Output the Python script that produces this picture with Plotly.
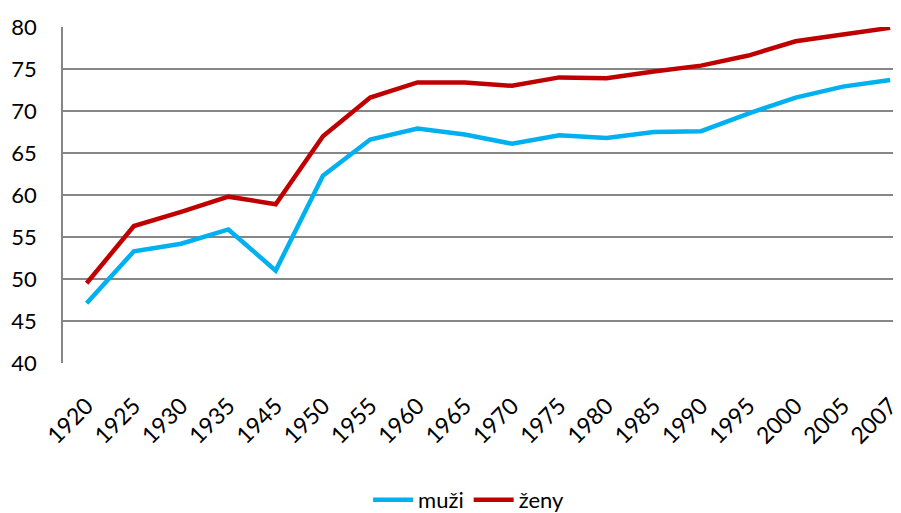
import plotly.graph_objects as go

roky = ['1920', '1925', '1930', '1935', '1945', '1950', '1955', '1960', '1965',
        '1970', '1975', '1980', '1985', '1990', '1995', '2000', '2005', '2007']

muzi = [47.1, 53.3, 54.2, 55.9, 51.0, 62.3, 66.6, 67.9, 67.2,
        66.1, 67.1, 66.8, 67.5, 67.6, 69.7, 71.6, 72.9, 73.7]

zeny = [49.5, 56.3, 58.0, 59.8, 58.9, 67.0, 71.6, 73.4, 73.4,
        73.0, 74.0, 73.9, 74.7, 75.4, 76.6, 78.3, 79.1, 79.9]

FONT = 'Lato'

fig = go.Figure()
fig.add_trace(go.Scatter(x=roky, y=muzi, name='muži', mode='lines',
                         line=dict(color='#00B0F0', width=4.5)))
fig.add_trace(go.Scatter(x=roky, y=zeny, name='ženy', mode='lines',
                         line=dict(color='#C00000', width=4.5)))

# the page body has an 8px margin, so the figure is drawn 8px smaller
fig.update_layout(
    width=893,
    height=505,
    margin=dict(l=55, r=0, t=19, b=150),
    plot_bgcolor='white',
    paper_bgcolor='white',
    font=dict(family=FONT, size=22, color='black'),
    legend=dict(orientation='h', x=0.484, xanchor='center',
                yref='container', y=0.026, yanchor='middle',
                font=dict(size=22), itemwidth=40),
    xaxis=dict(
        type='category',
        range=[-0.5, 17.23],
        tickangle=-45,
        tickfont=dict(size=23),
        showgrid=False,
        showline=False,
        ticks='',
        automargin=False,
        ticklabelstandoff=24,
    ),
    yaxis=dict(
        range=[40, 80],
        dtick=5,
        showgrid=True,
        gridcolor='#868686',
        gridwidth=1.5,
        showline=True,
        linecolor='#868686',
        linewidth=1.5,
        zeroline=False,
        ticks='',
        automargin=False,
        ticklabelstandoff=20,
    ),
)

fig.write_html('out.html')
